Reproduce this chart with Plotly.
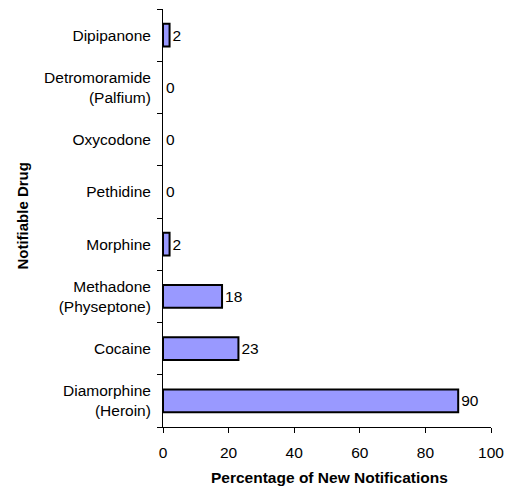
import plotly.graph_objects as go

# Notifiable drugs, listed bottom to top
drugs = [
    "Diamorphine<br>(Heroin)",
    "Cocaine",
    "Methadone<br>(Physeptone)",
    "Morphine",
    "Pethidine",
    "Oxycodone",
    "Detromoramide<br>(Palfium)",
    "Dipipanone",
]
percentages = [90, 23, 18, 2, 0, 0, 0, 2]
x_ticks = [0, 20, 40, 60, 80, 100]

FONT = "Liberation Sans, Arial, sans-serif"
TICK_SIZE = 15.5

# zero-length bars get no outline so they vanish against the axis
outline_widths = [2 if v > 0 else 0 for v in percentages]

fig = go.Figure(
    go.Bar(
        y=drugs,
        x=percentages,
        orientation="h",
        width=0.44,
        marker=dict(color="#9999FF", line=dict(color="#000000", width=outline_widths)),
        text=[str(v) for v in percentages],
        textposition="outside",
        cliponaxis=False,
        textfont=dict(family=FONT, size=TICK_SIZE, color="#000000"),
    )
)

fig.update_layout(
    width=513,
    height=489,
    margin=dict(l=163, r=16, t=9, b=62),
    paper_bgcolor="#FFFFFF",
    plot_bgcolor="#FFFFFF",
    showlegend=False,
    font=dict(family=FONT, size=TICK_SIZE, color="#000000"),
    annotations=[
        dict(
            text="<b>Notifiable Drug</b>",
            xref="paper", yref="paper",
            x=(19 - 163) / 334, y=(427 - 216) / 418,
            xanchor="center", yanchor="middle",
            textangle=-90, showarrow=False,
            font=dict(family=FONT, size=15, color="#000000"),
        ),
        dict(
            text="<b>Percentage of New Notifications</b>",
            xref="paper", yref="paper",
            x=(333 - 163) / 334, y=-(478 - 427) / 418,
            xanchor="center", yanchor="middle", showarrow=False,
            font=dict(family=FONT, size=15.5, color="#000000"),
        ),
    ],
)

fig.update_xaxes(
    range=[0, 100],
    tickvals=x_ticks,
    ticks="outside",
    ticklen=5,
    tickcolor="#000000",
    showline=True,
    linecolor="#000000",
    linewidth=1,
    showgrid=False,
    zeroline=False,
    ticklabelstandoff=6,
    tickfont=dict(family=FONT, size=TICK_SIZE, color="#000000"),
)

fig.update_yaxes(
    type="category",
    categoryorder="array",
    categoryarray=drugs,
    range=[-0.5, len(drugs) - 0.5],
    tickson="boundaries",
    ticks="outside",
    ticklen=5,
    tickcolor="#000000",
    showline=True,
    linecolor="#000000",
    linewidth=1,
    showgrid=False,
    zeroline=False,
    ticklabelstandoff=8,
    tickfont=dict(family=FONT, size=TICK_SIZE, color="#000000"),
)

fig.write_html("out.html")
